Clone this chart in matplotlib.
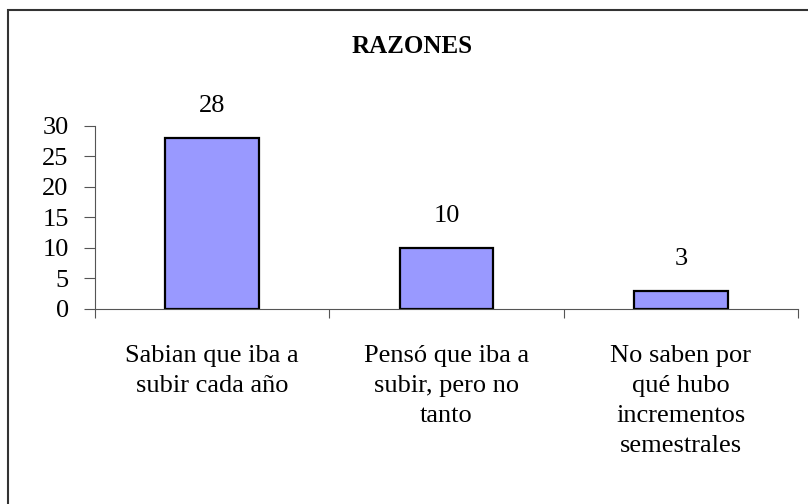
import matplotlib.pyplot as plt
from matplotlib.patches import Rectangle

plt.rcParams['font.family'] = ['Liberation Serif', 'DejaVu Serif']

# Razones
categories = ['Sabian que iba a\nsubir cada año',
              'Pensó que iba a\nsubir, pero no\ntanto',
              'No saben por\nqué hubo\nincrementos\nsemestrales']
values = [28, 10, 3]
yticks = [0, 5, 10, 15, 20, 25, 30]

fig = plt.figure(figsize=(8.08, 5.04), dpi=100)
ax = fig.add_axes([0.1176, 0.387, 0.87, 0.363])

x = range(len(values))
bars = ax.bar(x, values, width=0.4, color='#9999FF', edgecolor='black', linewidth=1.6)

for xi, v in zip(x, values):
    ax.annotate(str(v), (xi, v), xytext=(0, 23), textcoords='offset points',
                ha='center', va='center', fontsize=19)

ax.set_xlim(-0.5, len(values) - 0.5)
ax.set_ylim(0, 30)
ax.set_yticks(yticks)
ax.set_yticklabels([str(t) for t in yticks], fontsize=19)
ax.tick_params(axis='y', direction='out', length=8, width=0.8, color='#555555', pad=11)

ax.set_xticks(list(x))
ax.set_xticklabels(categories, fontsize=19, linespacing=1.47, va='top')
ax.tick_params(axis='x', which='major', length=0, pad=26)
ax.set_xticks([i - 0.5 for i in range(len(values) + 1)], minor=True)
ax.tick_params(axis='x', which='minor', direction='out', length=6.5, width=0.8, color='#555555')

for s in ['top', 'right']:
    ax.spines[s].set_visible(False)
for s in ['left', 'bottom']:
    ax.spines[s].set_color('#555555')
    ax.spines[s].set_linewidth(0.8)

fig.text(0.51, 0.908, 'RAZONES', ha='center', va='center', fontsize=18, fontweight='bold')

# chart border
fig.patches.append(Rectangle((8 / 808, -0.05), 1.0, 1 - 10 / 504 + 0.05,
                             transform=fig.transFigure, fill=False,
                             edgecolor='#333333', linewidth=1.5))

fig.savefig('out.png', dpi=100)
